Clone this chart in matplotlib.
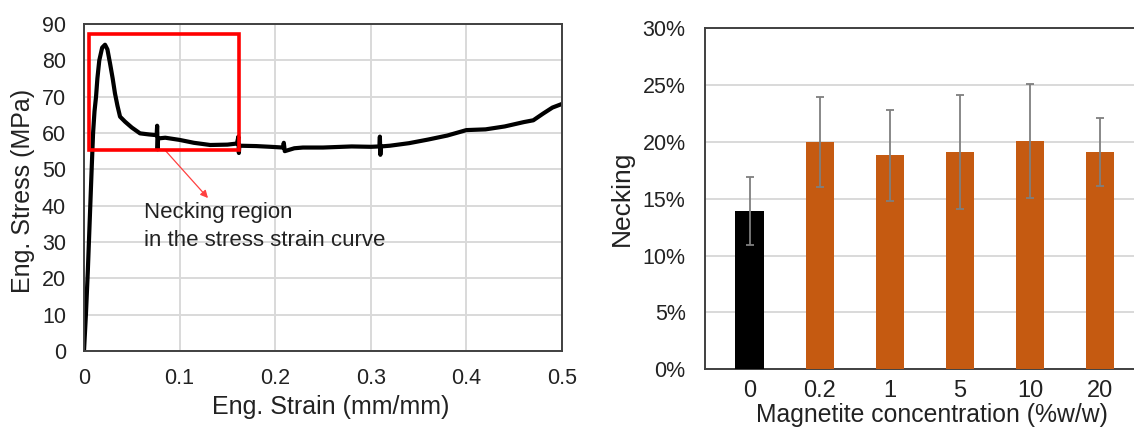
import matplotlib
matplotlib.use("Agg")
import matplotlib.pyplot as plt
from matplotlib.patches import Rectangle
from matplotlib.ticker import PercentFormatter

plt.rcParams['font.family'] = ['Liberation Sans', 'DejaVu Sans']

# Stress-strain curve
strain = [0, 0.002, 0.004, 0.006, 0.008, 0.0095, 0.011, 0.0126, 0.014, 0.016, 0.019,
          0.022, 0.0245, 0.0272, 0.030, 0.0324, 0.035, 0.0377, 0.043, 0.050, 0.0586,
          0.068, 0.076, 0.0765, 0.077, 0.0775, 0.085, 0.100, 0.115, 0.132, 0.150,
          0.160, 0.1615, 0.162, 0.1625, 0.180, 0.195, 0.208, 0.209, 0.210, 0.220,
          0.229, 0.250, 0.280, 0.300, 0.309, 0.3095, 0.310, 0.3105, 0.320, 0.340,
          0.360, 0.380, 0.400, 0.420, 0.440, 0.460, 0.470, 0.480, 0.490, 0.500]
stress = [0, 10, 22, 36, 50, 60, 66, 70, 75, 80, 83.5,
          84.3, 83.0, 79.2, 75.0, 70.9, 67.5, 64.5, 63.1, 61.5, 59.9,
          59.6, 59.4, 62, 55.5, 58.5, 58.7, 58.1, 57.3, 56.7, 56.8,
          57.1, 59, 54.5, 56.5, 56.4, 56.2, 56.0, 57.3, 55.0, 55.8,
          56.0, 56.0, 56.3, 56.2, 56.3, 59, 54, 56.3, 56.5, 57.2,
          58.2, 59.3, 60.8, 61.0, 61.8, 63.0, 63.5, 65.3, 67.0, 68.0]

# Bar chart data
categories = ['0', '0.2', '1', '5', '10', '20']
necking = [13.9, 20.0, 18.85, 19.1, 20.1, 19.15]
necking_err = [3.0, 4.0, 4.0, 5.0, 5.0, 3.0]
bar_colors = ['#000000', '#C55A11', '#C55A11', '#C55A11', '#C55A11', '#C55A11']

TXT = '#222222'
fig = plt.figure(figsize=(11.34, 4.30), dpi=100)

# ---- Left panel ----
ax1 = fig.add_axes([84 / 1134, 1 - 351 / 430, 478 / 1134, 327 / 430])
ax1.plot(strain, stress, color='black', lw=3.0, solid_joinstyle='round')
ax1.set_xlim(0, 0.5)
ax1.set_ylim(0, 90)
ax1.set_xticks([0, 0.1, 0.2, 0.3, 0.4, 0.5])
ax1.set_xticklabels(['0', '0.1', '0.2', '0.3', '0.4', '0.5'])
ax1.set_yticks(range(0, 91, 10))
ax1.grid(True, color='#d9d9d9', lw=1.4)
ax1.set_axisbelow(True)
for s in ax1.spines.values():
    s.set_color('#404040')
    s.set_linewidth(1.4)
ax1.tick_params(length=0, labelsize=15.5, colors=TXT)
ax1.tick_params(axis='y', pad=13)
ax1.tick_params(axis='x', pad=12)
ax1.set_xlabel('Eng. Strain (mm/mm)', fontsize=18, color=TXT)
ax1.set_ylabel('Eng. Stress (MPa)', fontsize=18, color=TXT)
ax1.xaxis.set_label_coords(0.517, -0.135)
ax1.yaxis.set_label_coords(-0.103, 0.49)

ax1.add_patch(Rectangle((0.005, 55.3), 0.157, 31.9, fill=False,
                        edgecolor='#FF0000', lw=2.6, zorder=5))
ax1.annotate('', xy=(0.1297, 42.1), xytext=(0.0847, 55.3),
             arrowprops=dict(arrowstyle='-|>', color='#FF4040', lw=0.9,
                             mutation_scale=11, shrinkA=0, shrinkB=0))
ax1.text(0.0628, 36.6, 'Necking region', fontsize=16, va='baseline',
         ha='left', color=TXT)
ax1.text(0.0628, 28.9, 'in the stress strain curve', fontsize=16,
         va='baseline', ha='left', color=TXT)

# ---- Right panel ----
ax2 = fig.add_axes([705 / 1134, 1 - 369.3 / 430, 1 - 705 / 1134, 341 / 430])
x = list(range(len(categories)))
ax2.bar(x, necking, width=0.4, color=bar_colors, zorder=3,
        yerr=necking_err, error_kw=dict(ecolor='#7f7f7f', elinewidth=1.3,
                                        capsize=3, capthick=1.3, zorder=4))
ax2.set_xlim(-0.635, 5.485)
ax2.set_ylim(0, 30)
ax2.set_yticks(range(0, 31, 5))
ax2.yaxis.set_major_formatter(PercentFormatter(decimals=0))
ax2.set_xticks(x)
ax2.set_xticklabels(categories)
ax2.grid(True, axis='y', color='#d9d9d9', lw=1.4)
ax2.set_axisbelow(True)
for s in ax2.spines.values():
    s.set_color('#404040')
    s.set_linewidth(1.4)
ax2.spines['right'].set_visible(False)
ax2.tick_params(length=0, colors=TXT)
ax2.tick_params(axis='y', labelsize=15.5, pad=14)
ax2.tick_params(axis='x', labelsize=17, pad=8)
ax2.set_xlabel('Magnetite concentration (%w/w)', fontsize=17.8, color=TXT)
ax2.set_ylabel('Necking', fontsize=19, color=TXT)
ax2.xaxis.set_label_coords(0.529, -0.1)
ax2.yaxis.set_label_coords(-0.165, 0.5)

fig.savefig('out.png', dpi=100)
